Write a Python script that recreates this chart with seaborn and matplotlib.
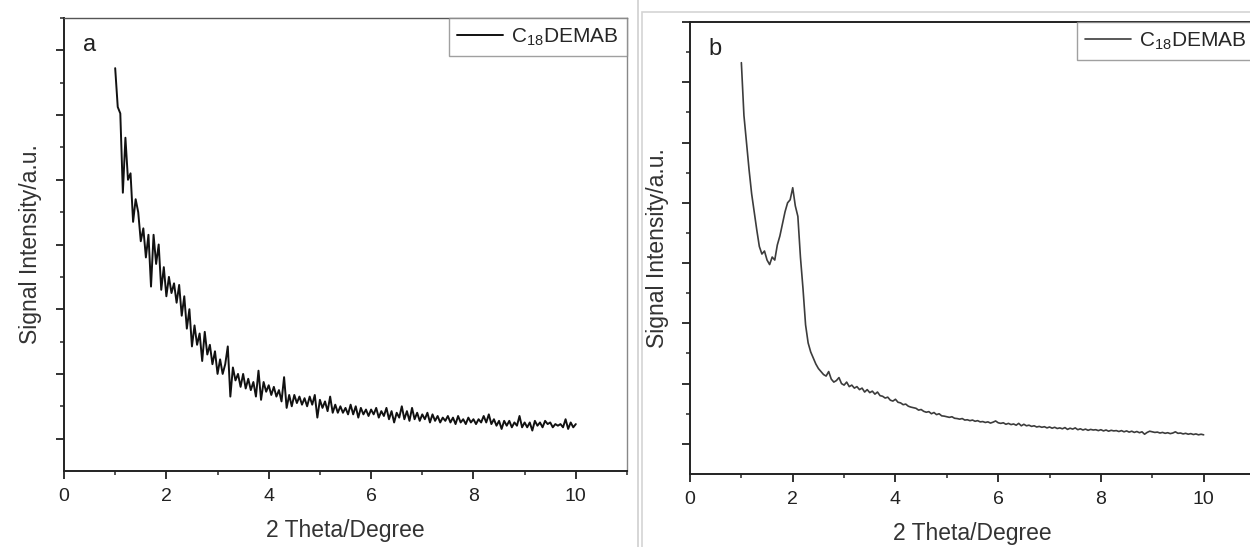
import matplotlib
matplotlib.use("Agg")
import matplotlib.pyplot as plt
import numpy as np
import seaborn as sns
from matplotlib.ticker import FixedLocator, MultipleLocator, NullFormatter
from matplotlib.patches import Rectangle
from matplotlib.lines import Line2D

# data (arbitrary intensity units)
intensity_a = [
    12.45, 11.25, 11.05, 8.6, 10.3, 9.0, 9.2, 7.7, 8.4, 8.0,
    7.1, 7.5, 6.6, 7.3, 5.7, 7.3, 6.4, 7.0, 5.6, 6.3,
    5.4, 6.0, 5.5, 5.8, 5.2, 5.75, 4.8, 5.4, 4.4, 5.0,
    3.85, 4.5, 3.9, 4.25, 3.4, 4.3, 3.6, 3.9, 3.3, 3.7,
    3.0, 3.45, 3.0, 3.3, 3.85, 2.3, 3.2, 2.8, 3.0, 2.6,
    3.0, 2.55, 2.85, 2.5, 2.75, 2.3, 3.1, 2.2, 2.75, 2.45,
    2.65, 2.35, 2.6, 2.3, 2.5, 2.15, 2.9, 1.95, 2.35, 2.0,
    2.35, 2.1, 2.3, 2.05, 2.25, 2.0, 2.3, 2.05, 2.35, 1.65,
    2.2, 1.95, 2.15, 1.85, 2.3, 1.8, 2.05, 1.8, 2.0, 1.8,
    1.95, 1.75, 2.05, 1.75, 2.0, 1.65, 1.95, 1.75, 1.9, 1.7,
    1.9, 1.75, 1.95, 1.65, 1.85, 1.7, 1.95, 1.6, 1.85, 1.5,
    1.8, 1.65, 2.0, 1.6, 1.85, 1.55, 1.95, 1.6, 1.8, 1.55,
    1.75, 1.6, 1.8, 1.5, 1.75, 1.55, 1.7, 1.5, 1.65, 1.55,
    1.7, 1.5, 1.65, 1.45, 1.7, 1.5, 1.6, 1.45, 1.65, 1.5,
    1.6, 1.45, 1.6, 1.5, 1.7, 1.5, 1.75, 1.45, 1.6, 1.4,
    1.55, 1.3, 1.55, 1.4, 1.55, 1.35, 1.5, 1.4, 1.7, 1.35,
    1.5, 1.35, 1.5, 1.25, 1.55, 1.4, 1.5, 1.35, 1.55, 1.45,
    1.5, 1.35, 1.45, 1.4, 1.45, 1.35, 1.6, 1.3, 1.5, 1.35,
    1.45,
]

intensity_b = [
    13.65, 11.9, 11.0, 10.1, 9.3, 8.7, 8.1, 7.55, 7.3, 7.4,
    7.1, 6.95, 7.2, 7.1, 7.6, 7.9, 8.3, 8.7, 9.0, 9.1,
    9.5, 8.9, 8.55, 7.2, 6.15, 4.95, 4.35, 4.05, 3.85, 3.65,
    3.5, 3.4, 3.3, 3.25, 3.4, 3.15, 3.05, 3.1, 3.2, 3.0,
    2.95, 3.05, 2.9, 2.95, 2.85, 2.9, 2.8, 2.85, 2.72, 2.8,
    2.7, 2.75, 2.65, 2.72, 2.6, 2.58, 2.52, 2.55, 2.45, 2.42,
    2.48, 2.38, 2.36, 2.3, 2.32, 2.25, 2.22, 2.2, 2.18, 2.12,
    2.14, 2.08, 2.05, 2.07, 2.0, 2.04, 1.97, 2.0, 1.93, 1.92,
    1.9, 1.88, 1.9, 1.85, 1.84, 1.82, 1.84, 1.79, 1.8, 1.77,
    1.79, 1.75, 1.77, 1.73, 1.74, 1.71, 1.73, 1.69, 1.72, 1.76,
    1.7, 1.68, 1.7, 1.65, 1.68, 1.64, 1.66, 1.62, 1.68, 1.6,
    1.65, 1.6, 1.62, 1.58, 1.6, 1.56, 1.58, 1.55, 1.57, 1.53,
    1.56, 1.52, 1.55, 1.51, 1.53, 1.5, 1.54, 1.48, 1.52, 1.49,
    1.53, 1.47, 1.5, 1.46, 1.49, 1.45, 1.48, 1.46, 1.47, 1.44,
    1.47, 1.43, 1.46, 1.42, 1.45, 1.43, 1.44, 1.41, 1.44, 1.4,
    1.43, 1.39, 1.42, 1.38, 1.41, 1.37, 1.4, 1.32, 1.38, 1.42,
    1.4, 1.38, 1.39, 1.36, 1.38, 1.35, 1.37, 1.34, 1.36, 1.4,
    1.35, 1.36, 1.33, 1.35, 1.32, 1.34, 1.31, 1.33, 1.3, 1.32,
    1.3,
]

# scans run 1-10 degrees on an even step
theta_a = np.linspace(1, 10, len(intensity_a))
theta_b = np.linspace(1, 10, len(intensity_b))

legend_label = "C$_{18}$DEMAB"
panel_labels = ["a", "b"]
xlabel = "2 Theta/Degree"
ylabel = "Signal Intensity/a.u."

sns.set_style("ticks")
plt.rcParams["font.family"] = ["Liberation Sans", "DejaVu Sans"]
plt.rcParams["mathtext.default"] = "regular"

fig = plt.figure(figsize=(12.5, 5.47), dpi=100)
fig.patch.set_facecolor("white")

# screenshot borders around the right panel
fig.add_artist(Line2D([638 / 1250, 638 / 1250], [0, 1], color="#d0d0d0", lw=1.2))
fig.add_artist(Rectangle((642 / 1250, -0.05), 0.6, (547 - 12) / 547 + 0.05,
                         fill=False, edgecolor="#d4d4d4", lw=1.2))

ax_a = fig.add_axes([64 / 1250, 76 / 547, 563 / 1250, 453 / 547])
ax_b = fig.add_axes([690 / 1250, 73 / 547, 565 / 1250, 452 / 547])

sns.lineplot(x=theta_a, y=intensity_a, ax=ax_a, color="#111111", lw=1.4,
             estimator=None, label=legend_label)
sns.lineplot(x=theta_b, y=intensity_b, ax=ax_b, color="#3c3c3c", lw=1.2,
             estimator=None, label=legend_label)

for ax, lab, ytop, ylx in [(ax_a, panel_labels[0], 14, -0.039),
                           (ax_b, panel_labels[1], 15, -0.037)]:
    ax.set_xlim(0, 11)
    ax.set_ylim(0, ytop)
    ax.xaxis.set_major_locator(MultipleLocator(2))
    ax.xaxis.set_minor_locator(MultipleLocator(1))
    ax.yaxis.set_major_locator(FixedLocator(np.arange(1, ytop + 0.5, 2)))
    ax.yaxis.set_minor_locator(FixedLocator(np.arange(2, ytop + 0.5, 2)))
    ax.yaxis.set_major_formatter(NullFormatter())
    ax.tick_params(axis="both", which="major", direction="out", length=6,
                   width=1.3, labelsize=14, pad=6, colors="#222222")
    ax.tick_params(axis="both", which="minor", direction="out", length=3, width=1.1)
    for side in ["left", "bottom", "top", "right"]:
        ax.spines[side].set_linewidth(1.4)
        ax.spines[side].set_color("#222222")
    ax.set_xlabel(xlabel, fontsize=16.5, color="#333333", labelpad=10)
    ax.set_ylabel(ylabel, fontsize=16.5, color="#333333")
    ax.yaxis.set_label_coords(ylx, 0.5)
    ax.text(0.033, 0.965, lab, transform=ax.transAxes, fontsize=17,
            va="top", ha="left", color="#222222")
    leg = ax.legend(loc="upper right", borderaxespad=0, fontsize=15,
                    frameon=True, fancybox=False, handlelength=2.2,
                    handletextpad=0.4, borderpad=0.4)
    leg.get_frame().set_edgecolor("#888888")
    leg.get_frame().set_linewidth(1.0)

ax_a.spines["top"].set_color("#555555")
ax_a.spines["right"].set_color("#888888")
ax_a.spines["top"].set_linewidth(1.0)
ax_a.spines["right"].set_linewidth(1.0)

fig.savefig("out.png", dpi=100, facecolor="white")
